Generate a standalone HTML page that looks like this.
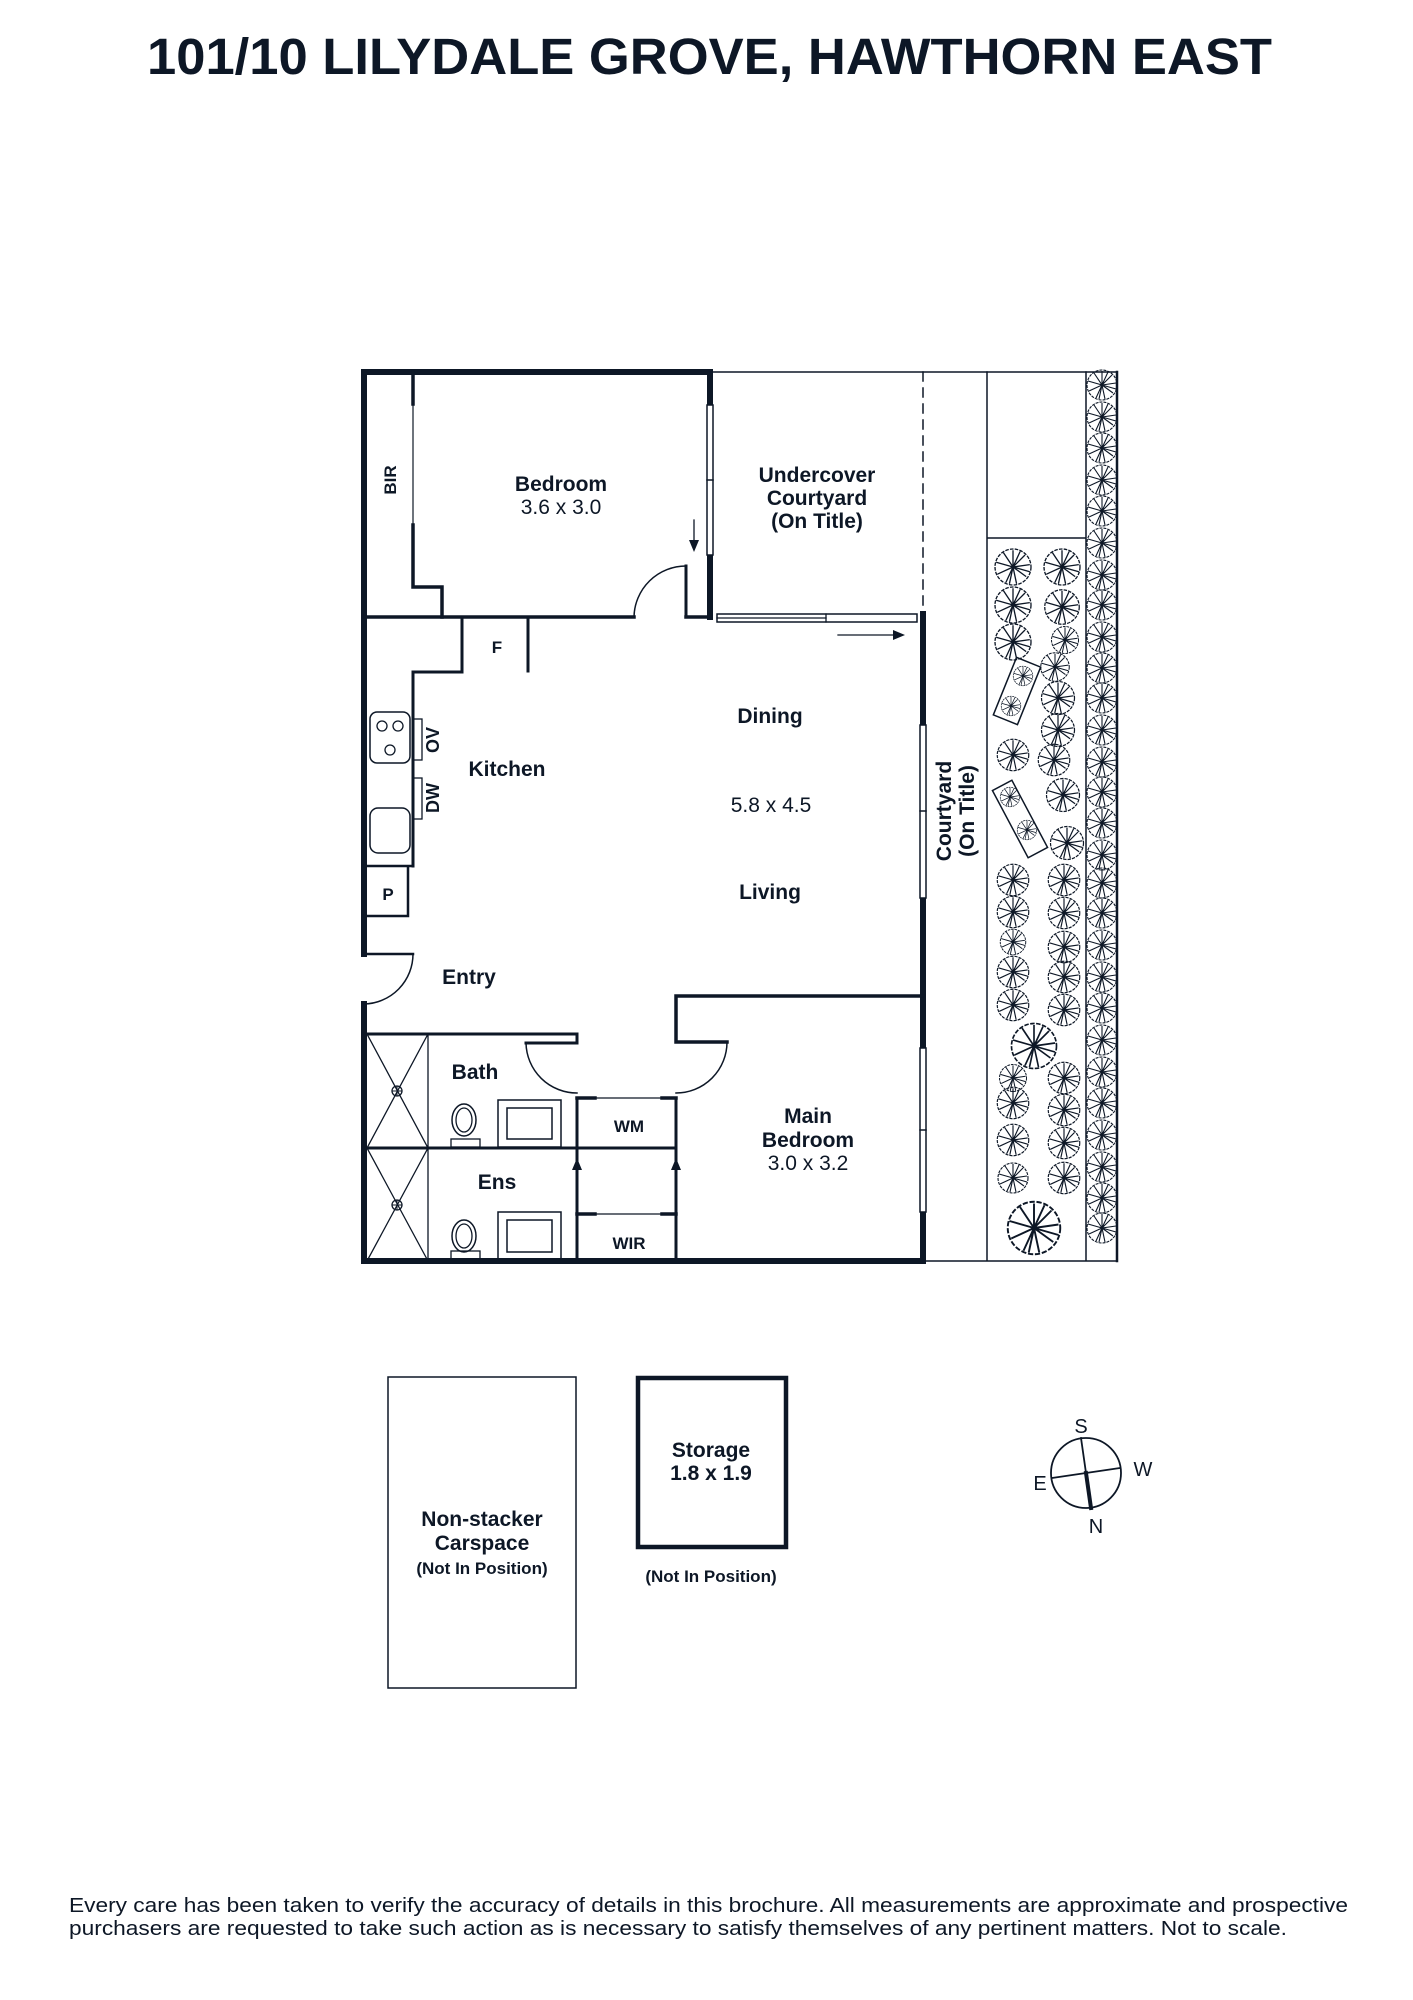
<!DOCTYPE html>
<html><head><meta charset="utf-8"><style>
html,body{margin:0;padding:0;background:#fff;}
svg{display:block;}
text{font-family:"Liberation Sans",sans-serif;fill:#0d1726;}
.b{font-weight:bold;font-size:21px;}
.n{font-size:21px;}
</style></head><body>
<svg width="1413" height="2000" viewBox="0 0 1413 2000" xmlns="http://www.w3.org/2000/svg">
<defs>
<g id="t" fill="none" stroke="#0d1726" stroke-width="1.1">
<circle r="1" />
<circle r="15" stroke-dasharray="3 1"/>
<path d="M0 0L0-14M0 0L10-10M0 0L14-2M0 0L11 8M0 0L3 14M0 0L-6 13M0 0L-13 6M0 0L-14-4M0 0L-8-12M0 0L6-13M0 0L14 4M0 0L-3 14"/>
</g>
</defs>
<text x="147" y="74" textLength="1125" lengthAdjust="spacingAndGlyphs" style="font-weight:bold;font-size:51px;">101/10 LILYDALE GROVE, HAWTHORN EAST</text>

<g fill="none" stroke="#0d1726" stroke-linecap="square">
<path d="M364 372H710V617M364 372V954M364 1004V1261H923V614" stroke-width="6"/>
<rect x="707" y="405" width="6" height="150" stroke-width="1.5" fill="#fff"/>
<line x1="707" y1="480" x2="713" y2="480" stroke-width="1.5"/>
<path d="M364 617H634M686 617H710" stroke-width="3.5"/>
<path d="M686 617V566" stroke-width="3"/>
<path d="M686 566A52 52 0 0 0 634 617" stroke-width="1.5"/>
<path d="M413 372V404M413 525V587H442V617" stroke-width="3.5"/>
<line x1="413" y1="404" x2="413" y2="525" stroke-width="1.2"/>
<path d="M462 617V672H413V866M528 617V671" stroke-width="3"/>
<rect x="717" y="614" width="200" height="8" stroke-width="1.5" fill="#fff"/>
<line x1="717" y1="618" x2="826" y2="618" stroke-width="1.3"/>
<line x1="826" y1="614" x2="826" y2="622" stroke-width="1.3"/>
<line x1="710" y1="372" x2="1117" y2="372" stroke-width="1.5"/>
<line x1="923" y1="372" x2="923" y2="612" stroke-width="1.5" stroke-dasharray="9 7"/>
<path d="M923 1261H1117V372M987 372V1261M1086 372V1261M987 538H1086" stroke-width="1.5"/>
<line x1="1117" y1="372" x2="1117" y2="1261" stroke-width="2.5"/>
<rect x="920" y="725" width="6" height="173" stroke-width="1.5" fill="#fff"/>
<line x1="920" y1="811" x2="926" y2="811" stroke-width="1.5"/>
<rect x="920" y="1048" width="6" height="164" stroke-width="1.5" fill="#fff"/>
<line x1="920" y1="1130" x2="926" y2="1130" stroke-width="1.5"/>
<rect x="370" y="712" width="40" height="51" rx="7" stroke-width="1.5"/>
<circle cx="382" cy="726" r="5" stroke-width="1.3"/><circle cx="398" cy="726" r="5" stroke-width="1.3"/><circle cx="390" cy="750" r="5" stroke-width="1.3"/>
<rect x="413" y="719" width="9" height="41" stroke-width="1.3"/>
<rect x="413" y="778" width="9" height="41" stroke-width="1.3"/>
<rect x="370" y="808" width="40" height="45" rx="8" stroke-width="1.5"/>
<path d="M364 866H413" stroke-width="2.5"/>
<path d="M364 916H408V868" stroke-width="2.5"/>
<path d="M364 954H413" stroke-width="2.5"/>
<path d="M413 954A50 50 0 0 1 364 1004" stroke-width="1.5"/>
<path d="M923 996H676V1042H727" stroke-width="3.5"/>
<path d="M727 1042A51 51 0 0 1 676 1093" stroke-width="1.5"/>
<path d="M364 1034H577V1043H526" stroke-width="3"/>
<path d="M526 1043A51 51 0 0 0 577 1093" stroke-width="1.5"/>
<path d="M577 1098V1261M676 1098V1261M364 1148H676" stroke-width="3"/>
<path d="M577 1098H595M662 1098H676M577 1214H595M662 1214H676" stroke-width="3.5"/>
<path d="M595 1098H662M595 1214H662" stroke-width="1.3"/>
<path d="M428 1034V1261M367 1034L428 1148M428 1034L367 1148M367 1148L428 1261M428 1148L367 1261" stroke-width="1.3"/>
<circle cx="397" cy="1091" r="5" stroke-width="1.3"/><path d="M392 1091H402M397 1086V1096" stroke-width="1"/>
<circle cx="397" cy="1205" r="5" stroke-width="1.3"/><path d="M392 1205H402M397 1200V1210" stroke-width="1"/>
<ellipse cx="464" cy="1120" rx="12" ry="16" stroke-width="1.5"/><ellipse cx="464" cy="1120" rx="8" ry="12" stroke-width="1.3"/>
<rect x="451" y="1139" width="29" height="8" stroke-width="1.3"/>
<ellipse cx="464" cy="1236" rx="12" ry="16" stroke-width="1.5"/><ellipse cx="464" cy="1236" rx="8" ry="12" stroke-width="1.3"/>
<rect x="451" y="1251" width="29" height="8" stroke-width="1.3"/>
<rect x="498" y="1100" width="63" height="47" stroke-width="1.5"/><rect x="507" y="1108" width="45" height="31" stroke-width="1.5"/>
<rect x="498" y="1212" width="63" height="47" stroke-width="1.5"/><rect x="507" y="1220" width="45" height="32" stroke-width="1.5"/>
<path d="M577 1206V1165M676 1206V1165M694 520V545M838 635H895" stroke-width="1.3"/>
<rect x="-13" y="-31" width="26" height="62" transform="translate(1017 691) rotate(22)" stroke-width="1.5"/>
<rect x="-11" y="-38" width="22" height="76" transform="translate(1020 819) rotate(-28)" stroke-width="1.5"/>
<rect x="388" y="1377" width="188" height="311" stroke-width="1.5"/>
<rect x="638" y="1378" width="148" height="169" stroke-width="4.5"/>
<circle cx="1086" cy="1473" r="35" stroke-width="1.8"/>
<path d="M1052 1478L1120 1468M1081 1438L1086 1473" stroke-width="1.8"/>
<path d="M1086 1473L1091 1508" stroke-width="4"/>
</g>
<g fill="#0d1726">
<path d="M577 1158L572 1170H582Z M676 1158L671 1170H681Z M694 552L689 540H699Z M905 635L893 630V640Z"/>
</g>
<g>
<use href="#t" x="1102" y="385"/><use href="#t" x="1102" y="417"/><use href="#t" x="1102" y="448"/><use href="#t" x="1102" y="480"/><use href="#t" x="1102" y="511"/>
<use href="#t" x="1102" y="543"/><use href="#t" x="1102" y="575"/><use href="#t" x="1102" y="605"/><use href="#t" x="1102" y="637"/><use href="#t" x="1102" y="668"/>
<use href="#t" x="1102" y="698"/><use href="#t" x="1102" y="730"/><use href="#t" x="1102" y="762"/><use href="#t" x="1102" y="792"/><use href="#t" x="1102" y="823"/>
<use href="#t" x="1102" y="855"/><use href="#t" x="1102" y="883"/><use href="#t" x="1102" y="913"/><use href="#t" x="1102" y="945"/><use href="#t" x="1102" y="977"/>
<use href="#t" x="1102" y="1008"/><use href="#t" x="1102" y="1040"/><use href="#t" x="1102" y="1072"/><use href="#t" x="1102" y="1103"/><use href="#t" x="1102" y="1135"/>
<use href="#t" x="1102" y="1167"/><use href="#t" x="1102" y="1198"/><use href="#t" x="1102" y="1228"/>
<use href="#t" transform="translate(1013 567) scale(1.2)"/><use href="#t" transform="translate(1013 605) scale(1.2)"/><use href="#t" transform="translate(1013 642) scale(1.2)"/>
<use href="#t" transform="translate(1013 755) scale(1.05)"/>
<use href="#t" transform="translate(1023 676) scale(0.65)"/><use href="#t" transform="translate(1011 706) scale(0.65)"/>
<use href="#t" transform="translate(1010 797) scale(0.65)"/><use href="#t" transform="translate(1027 830) scale(0.65)"/>
<use href="#t" transform="translate(1062 567) scale(1.2)"/><use href="#t" transform="translate(1062 607) scale(1.15)"/><use href="#t" transform="translate(1065 640) scale(0.9)"/>
<use href="#t" transform="translate(1055 667) scale(0.95)"/><use href="#t" transform="translate(1058 698) scale(1.1)"/><use href="#t" transform="translate(1058 730) scale(1.1)"/>
<use href="#t" transform="translate(1054 760) scale(1.05)"/><use href="#t" transform="translate(1063 795) scale(1.1)"/><use href="#t" transform="translate(1067 843) scale(1.1)"/>
<use href="#t" transform="translate(1013 880) scale(1.05)"/><use href="#t" transform="translate(1013 912) scale(1.05)"/><use href="#t" transform="translate(1013 942) scale(0.85)"/>
<use href="#t" transform="translate(1013 972) scale(1.05)"/><use href="#t" transform="translate(1013 1005) scale(1.05)"/>
<use href="#t" transform="translate(1034 1046) scale(1.5)"/>
<use href="#t" transform="translate(1013 1078) scale(0.9)"/><use href="#t" transform="translate(1013 1103) scale(1.05)"/><use href="#t" transform="translate(1013 1140) scale(1.05)"/><use href="#t" transform="translate(1013 1178) scale(1.0)"/>
<use href="#t" transform="translate(1034 1228) scale(1.75)"/>
<use href="#t" transform="translate(1064 880) scale(1.05)"/><use href="#t" transform="translate(1064 913) scale(1.05)"/><use href="#t" transform="translate(1064 947) scale(1.05)"/>
<use href="#t" transform="translate(1064 977) scale(1.05)"/><use href="#t" transform="translate(1064 1010) scale(1.05)"/>
<use href="#t" transform="translate(1064 1078) scale(1.05)"/><use href="#t" transform="translate(1064 1110) scale(1.05)"/><use href="#t" transform="translate(1064 1143) scale(1.05)"/><use href="#t" transform="translate(1064 1178) scale(1.05)"/>
</g>
<g text-anchor="middle">
<text class="b" x="561" y="491">Bedroom</text>
<text class="n" x="561" y="514">3.6 x 3.0</text>
<text class="b" x="817" y="482">Undercover</text>
<text class="b" x="817" y="505">Courtyard</text>
<text class="b" x="817" y="528">(On Title)</text>
<text class="b" x="389" y="480" transform="rotate(-90 389 480)" dy="7" style="font-size:17px">BIR</text>
<text class="b" x="497" y="653" style="font-size:17px">F</text>
<text class="b" x="432" y="740" transform="rotate(-90 432 740)" dy="7" style="font-size:18px">OV</text>
<text class="b" x="432" y="798" transform="rotate(-90 432 798)" dy="7" style="font-size:18px">DW</text>
<text class="b" x="388" y="900" style="font-size:17px">P</text>
<text class="b" x="507" y="776">Kitchen</text>
<text class="b" x="770" y="723">Dining</text>
<text class="n" x="771" y="812">5.8 x 4.5</text>
<text class="b" x="770" y="899">Living</text>
<text class="b" x="469" y="984">Entry</text>
<text class="b" x="475" y="1079">Bath</text>
<text class="b" x="497" y="1189">Ens</text>
<text class="b" x="629" y="1132" style="font-size:17px">WM</text>
<text class="b" x="629" y="1249" style="font-size:17px">WIR</text>
<text class="b" x="808" y="1123">Main</text>
<text class="b" x="808" y="1147">Bedroom</text>
<text class="n" x="808" y="1170">3.0 x 3.2</text>
<g transform="rotate(-90 961 811)">
<text class="b" x="961" y="801">Courtyard</text>
<text class="b" x="961" y="824">(On Title)</text>
</g>
<text class="b" x="482" y="1526">Non-stacker</text>
<text class="b" x="482" y="1550">Carspace</text>
<text class="b" x="482" y="1574" style="font-size:17px">(Not In Position)</text>
<text class="b" x="711" y="1457">Storage</text>
<text class="b" x="711" y="1480">1.8 x 1.9</text>
<text class="b" x="711" y="1582" style="font-size:17px">(Not In Position)</text>
<text x="1081" y="1433" style="font-size:20px">S</text>
<text x="1143" y="1476" style="font-size:20px">W</text>
<text x="1040" y="1490" style="font-size:20px">E</text>
<text x="1096" y="1533" style="font-size:20px">N</text>
</g>
<text x="69" y="1912" textLength="1279" lengthAdjust="spacingAndGlyphs" style="font-size:20px">Every care has been taken to verify the accuracy of details in this brochure. All measurements are approximate and prospective</text>
<text x="69" y="1935" textLength="1218" lengthAdjust="spacingAndGlyphs" style="font-size:20px">purchasers are requested to take such action as is necessary to satisfy themselves of any pertinent matters. Not to scale.</text>
</svg>
</body></html>
